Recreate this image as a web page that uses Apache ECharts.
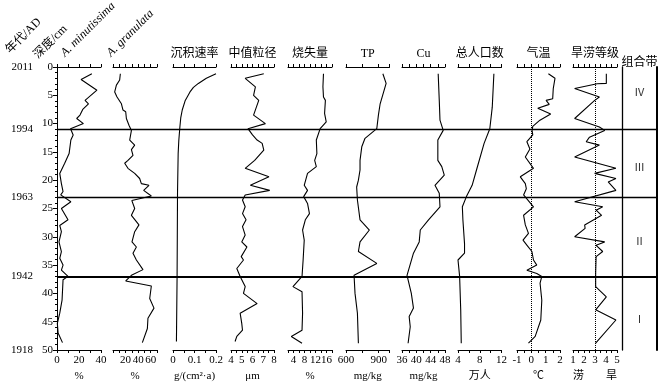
<!DOCTYPE html>
<html><head><meta charset="utf-8">
<script src="https://cdn.jsdelivr.net/npm/echarts@6/dist/echarts.min.js"></script>
<style>html,body{margin:0;padding:0;background:#fff}#c{width:664px;height:388px}</style>
</head><body><div id="c"></div>
<script>
// ---------- data ----------
const titles = ['A. minutissima','A. granulata','沉积速率','中值粒径','烧失量','TP','Cu','总人口数','气温','旱涝等级'];
const units = ['%','%','g/(cm²·a)','μm','%','mg/kg','mg/kg','万人','℃','涝\u3000\u3000旱'];
const axisMin = [0,0,0,4,2,600,36,4,-1,1];
const axisMax = [40,70,0.2,8,18,1000,48,12,2,5];
const axisStep = [10,10,0.05,0.5,2,150,2,2,0.5,0.5];
const tickLabels = [[0,20,40],[20,40,60],[0,0.1,0.2],[4,5,6,7,8],[4,8,12,16],[600,900],[36,40,44,48],[4,8,12],[-1,0,1,2],[1,2,3,4,5]];
const depthMin = 0, depthMax = 50;
const yearTop = 2011, yearBottom = 1918;
const boundaryDepths = [11,23,37];
const boundaryYears = [1994,1963,1942];
const zoneNames = ['Ⅳ','Ⅲ','Ⅱ','Ⅰ'];
const zoneLabelDepth = [4.7,17.9,31,44.7];
const refLineTemp = 0;
const refLineDrought = 3;

const minDepth = [1.2,2.2,4.1,5.9,6.5,7.5,8.5,9.1,10.0,10.9,12.0,12.9,15.3,17.0,18.8,20.6,22.0,22.6,23.8,25.0,27.0,28.0,29.1,30.9,32.6,33.8,35.0,35.9,37.0,37.6,41.2,43.5,45.3,47.0,48.7];
const minVal   = [31.7,21.9,36.3,25.5,28.6,23.4,20.9,17.9,24,12.3,14.7,12.6,11,7,2.5,4,5.5,3.4,12.6,4,10,2.5,4,1.8,4,2.5,5.5,4,10,5.5,4.6,2.5,0.3,1,5];

const granDepth = [1.2,2.3,3.2,4.4,5.3,6.5,7.6,7.9,9.1,10.3,11.2,12.9,13.8,14.6,15.6,16.5,17.0,17.9,18.8,19.7,20.6,20.9,21.8,22.8,23.6,25.0,26.2,27.9,29.1,30.9,31.8,32.9,34.1,35.8,36.8,37.8,38.7,40.9,42.6,44.4,46.2,48.7];
const granVal   = [11.7,10.6,5.4,2.7,6.4,13.4,15.9,20.2,21.3,25.4,29.3,26.6,34.5,29.3,31.8,23.8,18.6,23.8,34.5,42.4,45.1,57.2,48.8,61,30,34.5,29.3,41.3,34.5,30.2,37.2,31.8,37.2,47.7,29.3,20.2,61,58.4,65.2,55.6,54.7,46.7];

const sedDepth = [1.2,2.0,2.9,3.6,4.4,5.9,7.6,9.0,10.6,13.0,15.3,22.3,30.0,37.0,48.5];
const sedVal   = [0.2,0.155,0.118,0.095,0.079,0.057,0.043,0.036,0.032,0.027,0.024,0.021,0.020,0.019,0.016];

const grainDepth = [1.2,2.0,3.5,5.0,5.9,8.5,10.0,10.9,12.0,12.9,13.5,14.7,16.5,17.9,19.4,20.9,21.8,22.6,23.5,24.7,25.9,27.0,28.2,29.7,30.9,31.8,33.5,34.1,35.6,37.0,38.8,40.0,41.8,43.5,45.3,46.5,47.6,48.5];
const grainVal   = [7.05,5.32,6.27,6.1,6.58,6.1,7.2,5.58,6.0,6.43,6.9,7.05,6.2,5.32,7.53,5.8,7.6,5.32,5.07,5.32,5.07,5.4,5.07,5.32,5.0,5.48,4.95,5.16,4.54,4.85,5.32,5.16,6.43,4.85,5.0,5.07,4.54,4.38];

const loiDepth = [1.2,3.5,5.3,5.9,8.2,9.7,10.9,12.9,15.3,16.5,17.6,18.8,20.9,21.8,22.9,24.1,25.9,27.0,28.8,30.6,34.1,37.0,38.8,39.7,43.5,46.5,47.6,48.8];
const loiVal   = [14.9,14.7,14.9,15.6,15.3,15.9,13.7,12.3,12.5,11.7,12.3,9.1,7.9,9.1,7.7,9.1,9.8,8.3,7.3,7.9,7.5,7.1,3.8,7.1,7.3,7.1,3.2,7.1];

const tpDepth = [1.2,2.9,6.5,8.5,10.9,12.6,14.1,16.5,18.2,20.0,21.2,23.5,27.0,28.8,30.9,32.6,34.7,36.8,40.0,43.5,48.8];
const tpVal   = [939,969,914,898,883,775,745,729,729,714,698,705,729,815,729,714,883,674,683,705,714];

const cuDepth = [1.2,5.9,9.4,11.2,12.9,16.5,17.6,19.1,20.9,22.3,24.7,27.0,28.8,30.9,32.9,36.8,40.0,42.6,44.1,45.9,48.8];
const cuVal   = [46.1,46.4,46.6,47.5,46.0,46.0,47.1,47.8,45.2,46.4,46.6,43.4,41.1,40.8,39.2,37.4,38.6,39.2,38.0,38.3,37.7];

const popDepth = [1.2,7.1,10.9,13.5,18.2,20.9,22.9,24.7,27.0,31.2,32.9,34.1,37.0,42.9,48.8];
const popVal   = [10.6,10.3,9.85,8.8,7.4,6.6,5.55,4.8,4.9,5.2,5.2,4.0,4.3,4.5,4.6];

const tempDepth = [1.2,2.0,3.8,5.6,5.9,6.6,7.3,8.3,9.4,10.5,11.2,12.0,13.2,14.5,15.9,17.9,19.4,20.6,21.5,22.6,24.7,26.2,27.9,29.4,30.6,31.5,32.6,34.1,35.0,35.9,36.5,37.0,38.2,41.2,44.7,47.6,48.8];
const tempVal   = [1.19,1.65,1.53,1.49,1.03,1.25,0.45,1.35,0.6,0.1,0.05,0.1,-0.31,-0.1,-0.42,0.15,-0.77,-0.42,-0.35,-0.54,0.15,-0.54,-0.42,-0.2,-0.58,-0.3,0.04,0.15,0.38,-0.31,0.38,0.73,0.61,0.73,0.66,0.27,-0.2];

const dfDepth = [1.2,2.9,2.95,3.8,5.3,5.9,9.1,10.6,11.2,12.4,13.2,13.8,15.9,17.9,18.8,19.7,20.3,21.8,23.8,24.7,25.3,26.2,27.9,28.5,30.0,30.9,31.5,32.6,33.5,36.5,38.8,40.6,42.9,44.7,48.8];
const dfVal   = [4.03,4.03,3.2,1.15,3.4,2.97,1.15,3.4,3.88,2.5,2.2,3.4,1.15,4.9,2.97,4.9,4.2,4.9,1.15,3.7,3.1,3.6,2.06,2.1,1.15,3.88,3.1,3.7,3.1,3.06,3.06,4.03,3.06,4.9,3.06];

const seriesDepth = [minDepth,granDepth,sedDepth,grainDepth,loiDepth,tpDepth,cuDepth,popDepth,tempDepth,dfDepth];
const seriesVal = [minVal,granVal,sedVal,grainVal,loiVal,tpVal,cuVal,popVal,tempVal,dfVal];

// ---------- layout ----------
const FONT = '"Liberation Serif","Noto Sans CJK SC",serif';
const panelLeft = [57,113,173,231,288,346,402,458,517,573];
const panelWidth = [44,44,43,43,44,43.5,43,43.5,43,44];
const TOP = 67, BOTTOM = 38;
const yearMap = {};
yearMap[depthMin] = yearTop; yearMap[depthMax] = yearBottom;
boundaryDepths.forEach((d,k)=>{ yearMap[d] = boundaryYears[k]; });

const grids = [], xAxes = [], yAxes = [], series = [];
const black = '#000';
for (let i = 0; i < 10; i++) {
  grids.push({left: panelLeft[i], width: panelWidth[i], top: TOP, bottom: BOTTOM});
  const common = {
    type: 'value', gridIndex: i, min: axisMin[i], max: axisMax[i], interval: axisStep[i],
    axisLine: {show: true, onZero: false, lineStyle: {color: black, width: 1}},
    axisTick: {show: true, length: 3, lineStyle: {color: black, width: 1}},
    splitLine: {show: false}
  };
  const labs = tickLabels[i];
  xAxes.push(Object.assign({}, common, {
    position: 'top', axisLabel: {show: false},
    name: i >= 2 ? titles[i] : '', nameLocation: 'middle', nameGap: 7,
    nameTextStyle: {fontSize: 12, color: black, fontFamily: FONT}
  }));
  xAxes.push(Object.assign({}, common, {
    position: 'bottom',
    axisLabel: {show: true, margin: 5, fontSize: 11, color: black, fontFamily: FONT,
      showMinLabel: true, showMaxLabel: true,
      formatter: v => labs.some(t => Math.abs(t - v) < 1e-9) ? String(+(+v).toFixed(4)) : ''},
    name: units[i], nameLocation: 'middle', nameGap: 18,
    nameTextStyle: {fontSize: 11, color: black, fontFamily: FONT}
  }));
  if (i === 0) {
    yAxes.push({type: 'value', gridIndex: 0, inverse: true, min: depthMin, max: depthMax, interval: 5, position: 'left',
      axisLine: {show: true, onZero: false, lineStyle: {color: black, width: 1}},
      axisTick: {show: true, length: 4, lineStyle: {color: black}},
      minorTick: {show: true, splitNumber: 5, length: 2, lineStyle: {color: black}},
      axisLabel: {margin: 4, fontSize: 11, color: black, fontFamily: FONT},
      splitLine: {show: false}});
  } else {
    yAxes.push({type: 'value', gridIndex: i, inverse: true, min: depthMin, max: depthMax, show: false});
  }
  const s = {
    type: 'line', xAxisIndex: 2 * i + 1, yAxisIndex: i, symbol: 'none', silent: true,
    data: seriesDepth[i].map((d, k) => [seriesVal[i][k], d]),
    lineStyle: {color: black, width: 1.1}
  };
  if (i === 8 || i === 9) {
    s.markLine = {silent: true, symbol: 'none', label: {show: false},
      lineStyle: {color: black, type: 'dotted', width: 1},
      data: [{xAxis: i === 8 ? refLineTemp : refLineDrought}]};
  }
  series.push(s);
}
// year axis (index 10)
yAxes.push({type: 'value', gridIndex: 0, inverse: true, min: depthMin, max: depthMax, interval: 1, position: 'left', offset: 20,
  axisLine: {show: false}, axisTick: {show: false}, splitLine: {show: false},
  axisLabel: {margin: 4, fontSize: 11, color: black, fontFamily: FONT, formatter: v => yearMap[v] !== undefined ? String(yearMap[v]) : ''}});

// overlay grid (10) for boundaries
grids.push({left: 57, right: 7, top: TOP, bottom: BOTTOM});
xAxes.push({type: 'value', gridIndex: 10, min: 0, max: 1, show: false});
yAxes.push({type: 'value', gridIndex: 10, inverse: true, min: depthMin, max: depthMax, show: false});
const bWidths = [1.3, 1.3, 2];
series.push({type: 'line', xAxisIndex: 20, yAxisIndex: 11, data: [[0, 0]], symbol: 'none', lineStyle: {opacity: 0}, silent: true,
  markLine: {silent: true, symbol: 'none', label: {show: false},
    data: boundaryDepths.map((d, k) => ({yAxis: d, lineStyle: {color: black, width: bWidths[k], type: 'solid'}}))}});

// zone grid (11)
grids.push({left: 622, width: 35, top: TOP, bottom: BOTTOM});
xAxes.push({type: 'value', gridIndex: 11, min: 0, max: 1, position: 'top',
  axisLine: {show: false}, axisTick: {show: false}, axisLabel: {show: false}, splitLine: {show: false},
  name: '组合带', nameLocation: 'middle', nameGap: -2, nameTextStyle: {fontSize: 12, color: black, fontFamily: FONT}});
yAxes.push({type: 'value', gridIndex: 11, inverse: true, min: depthMin, max: depthMax, position: 'left',
  axisLine: {show: true, onZero: false, lineStyle: {color: black, width: 1.3}}, axisTick: {show: false}, axisLabel: {show: false}, splitLine: {show: false}});
yAxes.push({type: 'value', gridIndex: 11, inverse: true, min: depthMin, max: depthMax, position: 'right',
  axisLine: {show: true, onZero: false, lineStyle: {color: black, width: 2}}, axisTick: {show: false}, axisLabel: {show: false}, splitLine: {show: false}});
series.push({type: 'scatter', xAxisIndex: 21, yAxisIndex: 12, symbolSize: 0, silent: true,
  data: zoneLabelDepth.map((d, k) => ({value: [0.5, d], name: zoneNames[k]})),
  label: {show: true, position: 'inside', formatter: '{b}', fontSize: 11, color: black, fontFamily: FONT}});

// header texts slanted at 45 degrees
const rot = Math.PI / 4;
const graphic = [
  {type: 'text', x: 12, y: 56, rotation: rot, style: {text: '年代/AD', font: '12px ' + FONT, fill: black, align: 'left', verticalAlign: 'bottom'}},
  {type: 'text', x: 40, y: 61, rotation: rot, style: {text: '深度/cm', font: '12px ' + FONT, fill: black, align: 'left', verticalAlign: 'bottom'}},
  {type: 'text', x: 67, y: 59, rotation: rot, style: {text: titles[0], font: 'italic 12px ' + FONT, fill: black, align: 'left', verticalAlign: 'bottom'}},
  {type: 'text', x: 113, y: 59, rotation: rot, style: {text: titles[1], font: 'italic 12px ' + FONT, fill: black, align: 'left', verticalAlign: 'bottom'}}
];

const chart = echarts.init(document.getElementById('c'));
chart.setOption({
  animation: false,
  backgroundColor: '#fff',
  textStyle: {fontFamily: FONT},
  grid: grids, xAxis: xAxes, yAxis: yAxes, series: series, graphic: graphic
});
</script></body></html>
